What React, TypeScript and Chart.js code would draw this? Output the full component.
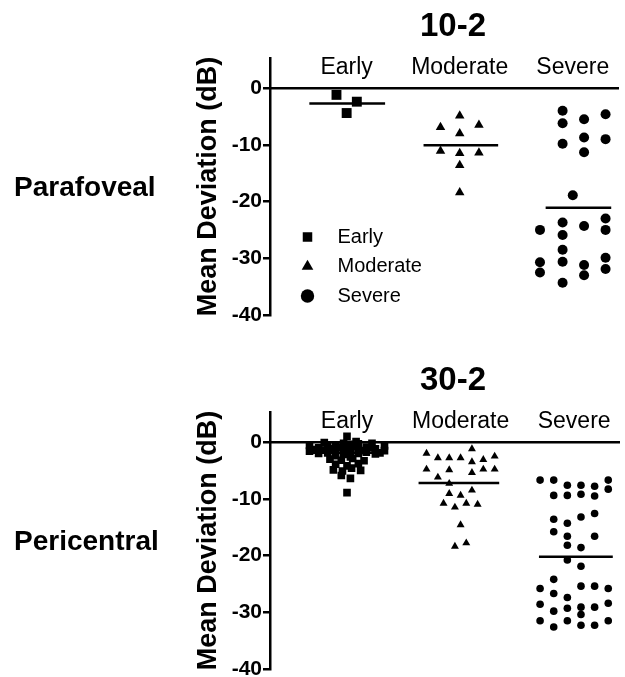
import React, { useEffect, useRef } from 'react';
import { Chart, registerables } from 'chart.js';

Chart.register(...registerables);
Chart.defaults.font.family = "'Liberation Sans', Arial, sans-serif";
Chart.defaults.color = '#000';

// ---------- shared ----------
const categories = ['Early', 'Moderate', 'Severe'];
const categoryPositions = [1, 2, 3];
const yMin = -40;
const yMax = 5.3;
const yStep = 10;

// ---------- 10-2 (Parafoveal) ----------
const p10EarlyOffset = [-0.09, 0.09, 0];
const p10EarlyMD = [-1.2, -2.4, -4.4];

const p10ModerateOffset = [0, -0.17, 0.17, 0, -0.17, 0, 0.17, 0, 0];
const p10ModerateMD = [-4.9, -6.9, -6.5, -8.0, -11.1, -11.5, -11.4, -13.6, -18.4];

const p10SevereOffset = [
  -0.09, -0.09, 0.1, 0.29, -0.09, 0.1, 0.29, 0.1, 0, -0.29, -0.09, -0.09,
  0.1, 0.29, 0.29, -0.09, -0.09, -0.29, -0.29, 0.1, 0.1, 0.29, 0.29, -0.09,
];
const p10SevereMD = [
  -4.0, -6.2, -5.5, -4.6, -9.8, -8.7, -9.0, -11.3, -18.9, -25.0, -23.7, -25.9,
  -24.3, -23.0, -25.0, -28.5, -30.6, -30.7, -32.5, -31.2, -33.0, -29.9, -31.9, -34.3,
];

const p10Means = [-2.7, -10.1, -21.1];
const p10MeanFrom = [-0.33, -0.32, -0.24];
const p10MeanTo = [0.34, 0.34, 0.34];

// ---------- 30-2 (Pericentral) ----------
const p30EarlyOffset = [
  -0.33, -0.33, -0.25, -0.25, -0.17, -0.17, -0.1, -0.1, -0.1, -0.03, -0.03, -0.03,
  0.03, 0.03, 0.03, 0.1, 0.1, 0.1, 0.17, 0.17, 0.25, 0.25, 0.33, 0.33,
  -0.29, -0.21, 0.21, 0.29, -0.07, 0.07, 0.14, -0.14,
  0, 0.08, -0.2, 0.22,
  -0.15, -0.05, 0.05, 0.15, -0.1, 0, 0.1, -0.12, -0.04, 0.04, 0.12, -0.05, 0.03,
  0,
];
const p30EarlyMD = [
  -0.6, -1.6, -1.0, -2.0, -0.8, -1.9, -0.5, -1.4, -2.4, -0.2, -1.2, -2.2,
  -0.4, -1.5, -2.6, -0.3, -1.1, -2.0, -0.9, -1.8, -1.2, -2.1, -0.7, -1.5,
  -1.3, -1.4, -1.0, -1.9, -0.9, -0.8, -1.5, -1.2,
  1.0, 0.1, -0.1, -0.2,
  -3.0, -3.2, -2.9, -3.3, -3.9, -4.2, -3.8, -4.9, -5.1, -4.6, -5.0, -5.9, -6.4,
  -8.9,
];

const p30ModerateOffset = [
  -0.3, -0.2, -0.1, 0, 0.1, 0.1, 0.2, 0.3, -0.3, -0.2, -0.1, 0.1, 0.2,
  0.3, -0.1, -0.1, 0, 0.1, -0.15, -0.05, 0.05, 0.15, 0, -0.05, 0.05,
];
const p30ModerateMD = [
  -2.0, -2.8, -2.8, -2.8, -1.2, -3.5, -3.1, -2.5, -4.8, -6.2, -4.9, -5.4, -4.8,
  -4.8, -7.3, -9.1, -9.4, -8.5, -10.8, -11.5, -10.8, -11.0, -14.6, -18.4, -17.8,
];

const p30SevereOffset = [
  -0.3, -0.18, -0.06, 0.06, 0.18, 0.3, 0.3, -0.18, -0.06, 0.06, 0.18,
  -0.18, -0.06, 0.06, 0.18, -0.18, -0.06, 0.18, -0.06, 0.06, -0.06, 0.06,
  -0.18, -0.3, -0.18, -0.06, 0.06, 0.18, 0.3,
  -0.3, -0.18, -0.06, 0.06, 0.06, 0.18, 0.3,
  -0.3, -0.18, -0.06, 0.06, 0.18, 0.3,
];
const p30SevereMD = [
  -6.7, -6.7, -7.6, -7.6, -7.8, -6.7, -8.3, -9.4, -9.4, -9.2, -9.5,
  -13.6, -14.3, -13.2, -12.6, -15.8, -16.6, -16.6, -18.2, -18.6, -20.8, -21.9,
  -24.2, -25.8, -26.7, -27.4, -25.4, -25.4, -25.8,
  -28.6, -29.8, -29.3, -29.1, -30.4, -29.1, -28.4,
  -31.5, -32.6, -31.5, -32.3, -32.3, -31.5,
];

const p30Means = [-1.9, -7.2, -20.2];
const p30MeanFrom = [-0.33, -0.37, -0.31];
const p30MeanTo = [0.34, 0.34, 0.34];

// ---------- helpers ----------
const toPoints = (pos: number, offsets: number[], values: number[]) =>
  offsets.map((o, i) => ({ x: pos + o, y: values[i] }));

const styles = ['rect', 'triangle', 'circle'];

interface PanelData {
  offsets: number[][];
  values: number[][];
  means: number[];
  meanFrom: number[];
  meanTo: number[];
  radii: number[];
  legend: boolean;
}

const legendShift = {
  id: 'legendShift',
  afterLayout(chart: any) {
    const l = chart.legend;
    if (!l || !l.options.display) return;
    const ca = chart.chartArea;
    const w = l.width;
    const h = l.height;
    l.left = ca.left + 18;
    l.top = ca.top + 159.5;
    l.right = l.left + w;
    l.bottom = l.top + h;
  },
};

function buildConfig(p: PanelData): any {
  const pointSets = categories.map((name, i) => ({
    label: name,
    data: toPoints(categoryPositions[i], p.offsets[i], p.values[i]),
    pointStyle: styles[i],
    pointRadius: p.radii[i],
    backgroundColor: '#000',
    borderColor: '#000',
    borderWidth: 0,
    pointBorderWidth: 0,
    showLine: false,
  }));
  const meanSets = categories.map((name, i) => ({
    label: name + ' mean',
    data: [
      { x: categoryPositions[i] + p.meanFrom[i], y: p.means[i] },
      { x: categoryPositions[i] + p.meanTo[i], y: p.means[i] },
    ],
    showLine: true,
    borderColor: '#000',
    borderWidth: 2.5,
    pointRadius: 0,
    backgroundColor: '#000',
  }));
  return {
    type: 'scatter',
    data: { datasets: [...pointSets, ...meanSets] },
    plugins: [legendShift],
    options: {
      responsive: false,
      maintainAspectRatio: false,
      animation: false,
      events: [],
      layout: { padding: { left: 190, top: 58, right: 1, bottom: 25 } },
      plugins: {
        title: { display: false },
        tooltip: { enabled: false },
        legend: {
          display: p.legend,
          position: 'chartArea',
          align: 'start',
          labels: {
            usePointStyle: true,
            boxHeight: 9.5,
            padding: 9.5,
            color: '#000',
            font: { size: 20 },
            filter: (item: any) => item.datasetIndex < 3,
            generateLabels: (chart: any) =>
              Chart.defaults.plugins.legend.labels
                .generateLabels(chart)
                .map((it: any) => ({ ...it, text: '\u2002' + it.text })),
          },
        },
      },
      scales: {
        x: {
          type: 'linear',
          min: 0.322,
          max: 3.4,
          position: { y: 0 },
          afterBuildTicks: (s: any) => {
            s.ticks = categoryPositions.map((v) => ({ value: v }));
          },
          ticks: {
            callback: (_v: any, i: number) => categories[i],
            color: '#000',
            font: { size: 23 },
            padding: -34,
            autoSkip: false,
            maxRotation: 0,
          },
          grid: { display: false, drawTicks: false },
          border: { display: true, color: '#000', width: 2.5 },
        },
        y: {
          type: 'linear',
          min: yMin,
          max: yMax,
          ticks: {
            stepSize: yStep,
            includeBounds: false,
            color: '#000',
            font: { size: 21, weight: 'bold' },
            padding: 1,
          },
          grid: {
            display: true,
            drawOnChartArea: false,
            drawTicks: true,
            tickLength: 7,
            color: '#000',
            lineWidth: 2.5,
          },
          border: { display: true, color: '#000', width: 2.5 },
          title: {
            display: true,
            text: 'Mean Deviation (dB)',
            color: '#000',
            font: { size: 27, weight: 'bold' },
            padding: { top: 2, bottom: 0 },
          },
          afterFit: (s: any) => {
            s.width = 80;
          },
        },
      },
    },
  };
}

const panel10: PanelData = {
  offsets: [p10EarlyOffset, p10ModerateOffset, p10SevereOffset],
  values: [p10EarlyMD, p10ModerateMD, p10SevereMD],
  means: p10Means,
  meanFrom: p10MeanFrom,
  meanTo: p10MeanTo,
  radii: [7, 5.5, 5],
  legend: true,
};

const panel30: PanelData = {
  offsets: [p30EarlyOffset, p30ModerateOffset, p30SevereOffset],
  values: [p30EarlyMD, p30ModerateMD, p30SevereMD],
  means: p30Means,
  meanFrom: p30MeanFrom,
  meanTo: p30MeanTo,
  radii: [5.4, 4.6, 3.8],
  legend: false,
};

function Panel({ data, top, title, side }: { data: PanelData; top: number; title: string; side: string }) {
  const ref = useRef<HTMLCanvasElement | null>(null);
  useEffect(() => {
    if (!ref.current) return;
    const chart = new Chart(ref.current, buildConfig(data));
    return () => chart.destroy();
  }, []);
  return (
    <>
      <canvas
        ref={ref}
        width={625}
        height={340}
        style={{ position: 'absolute', left: 0, top, width: 625, height: 340 }}
      />
      <div
        style={{
          position: 'absolute',
          left: 353,
          width: 200,
          top: top + 8,
          textAlign: 'center',
          fontWeight: 'bold',
          fontSize: 33,
          lineHeight: '33px',
          whiteSpace: 'nowrap',
        }}
      >
        {title}
      </div>
      <div
        style={{
          position: 'absolute',
          left: 14,
          top: top + 173,
          fontWeight: 'bold',
          fontSize: 28,
          lineHeight: '28px',
          whiteSpace: 'nowrap',
        }}
      >
        {side}
      </div>
    </>
  );
}

export default function App() {
  return (
    <div
      style={{
        position: 'absolute',
        left: 0,
        top: 0,
        width: 625,
        height: 677,
        overflow: 'hidden',
        background: '#fff',
        color: '#000',
        fontFamily: "'Liberation Sans', Arial, sans-serif",
      }}
    >
      <Panel data={panel10} top={0} title="10-2" side="Parafoveal" />
      <Panel data={panel30} top={354} title="30-2" side="Pericentral" />
    </div>
  );
}
